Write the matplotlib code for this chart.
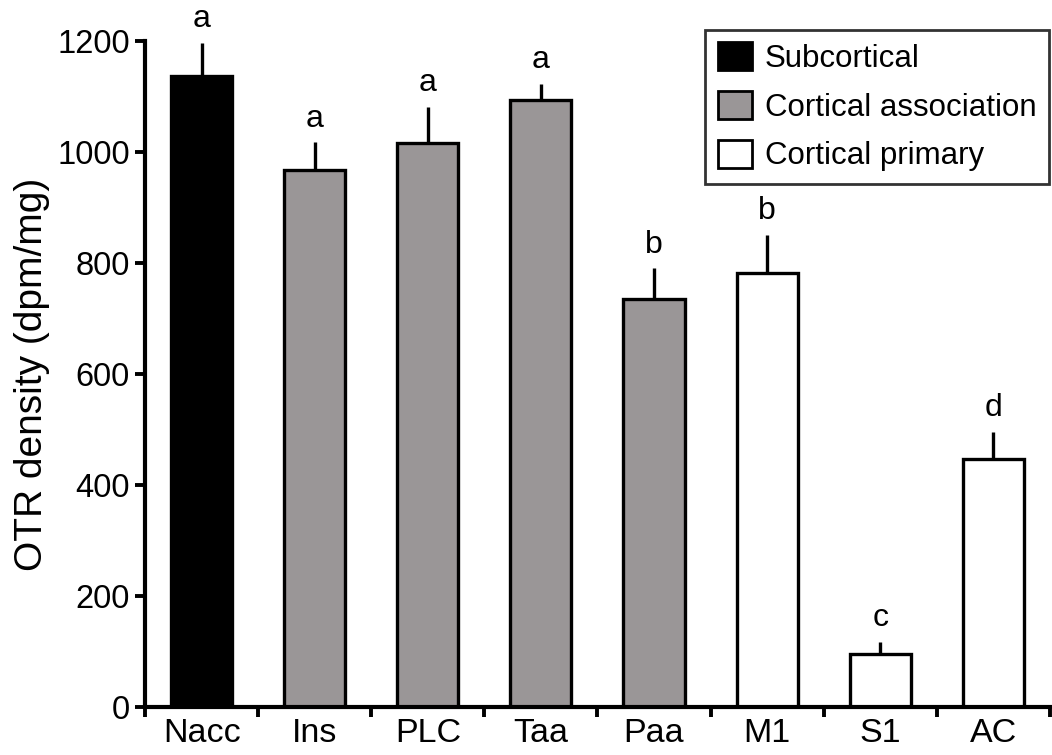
import matplotlib
matplotlib.use("Agg")
import matplotlib.pyplot as plt
from matplotlib.patches import Patch
import numpy as np

plt.rcParams['font.family'] = ['Liberation Sans', 'DejaVu Sans']

categories = ["Nacc", "Ins", "PLC", "Taa", "Paa", "M1", "S1", "AC"]
values = [1137, 968, 1017, 1093, 735, 782, 96, 447]
errors = [60, 50, 65, 30, 56, 69, 22, 49]
letters = ["a", "a", "a", "a", "b", "b", "c", "d"]
groups = ["Subcortical", "Cortical association", "Cortical association", "Cortical association",
          "Cortical association", "Cortical primary", "Cortical primary", "Cortical primary"]
group_names = ["Subcortical", "Cortical association", "Cortical primary"]
group_colors = {"Subcortical": "#000000", "Cortical association": "#9a9697", "Cortical primary": "#ffffff"}
yticks = [0, 200, 400, 600, 800, 1000, 1200]

fig = plt.figure(figsize=(10.52, 7.55), dpi=100)
ax = fig.add_axes([0.138, 0.0636, 0.862, 0.882])

x = np.arange(len(categories))
ax.errorbar(x, values, yerr=[np.zeros(len(errors)), errors], fmt='none',
            ecolor='black', elinewidth=2.4, capsize=0, zorder=1)
ax.bar(x, values, width=0.54, color=[group_colors[g] for g in groups],
       edgecolor='black', linewidth=2.4, zorder=2)

for xi, v, e, l in zip(x, values, errors, letters):
    ax.annotate(l, (xi, v + e), xytext=(0, 6), textcoords='offset points',
                ha='center', va='bottom', fontsize=23)

ax.set_xlim(-0.5, 7.52)
ax.set_ylim(0, 1200)
ax.set_yticks(yticks)
ax.set_yticklabels([str(t) for t in yticks], fontsize=23.5)
ax.set_xticks(np.arange(-0.5, 8.0, 1.0))
ax.set_xticklabels([])
ax.set_xticks(x, minor=True)
ax.set_xticklabels(categories, minor=True, fontsize=24.5)
ax.tick_params(axis='x', which='minor', length=0, pad=8)
ax.tick_params(axis='x', which='major', length=7, width=2.8, direction='out')
ax.tick_params(axis='y', length=7, width=2.8, direction='out', pad=4)

for s in ['top', 'right']:
    ax.spines[s].set_visible(False)
for s in ['left', 'bottom']:
    ax.spines[s].set_linewidth(3)

ax.set_ylabel("OTR density (dpm/mg)", fontsize=28, labelpad=5)

handles = [Patch(facecolor=group_colors[g], edgecolor='black', linewidth=2, label=g) for g in group_names]
leg = ax.legend(handles=handles, loc='upper right', bbox_to_anchor=(1.0, 1.022), fontsize=22.5,
                frameon=True, fancybox=False, edgecolor='black', handlelength=1.1, handleheight=1.0,
                handletextpad=0.4, borderpad=0.4, labelspacing=0.55, borderaxespad=0.1)
leg.get_frame().set_linewidth(2)

fig.savefig("out.png", dpi=100)
